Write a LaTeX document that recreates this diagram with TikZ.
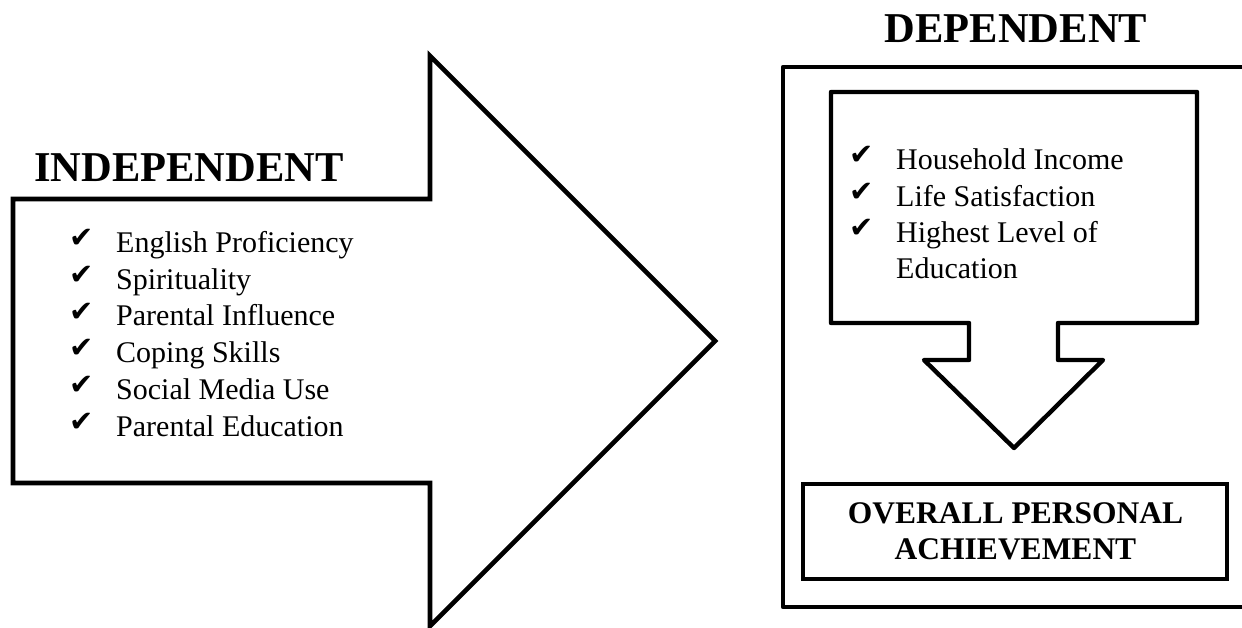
\documentclass[tikz,border=0pt]{standalone}
\usepackage{fontspec}
\setmainfont{Liberation Serif}
\newfontfamily\symfont{DejaVu Sans}
\begin{document}
\begin{tikzpicture}[x=1pt,y=-1pt,
  bigout/.style={draw=black, line width=4.6pt, line join=miter},
  roundout/.style={draw=black, line width=4.4pt, line join=round},
  thinbox/.style={draw=black, line width=3.2pt},
  title/.style={font=\fontsize{42.5}{42.5}\selectfont\bfseries, inner sep=0pt},
  item/.style={anchor=base west, font=\fontsize{30}{30}\selectfont, inner sep=0pt},
  tick/.style={anchor=base west, font=\symfont\fontsize{29}{29}\selectfont, inner sep=0pt},
  bold/.style={font=\fontsize{31.5}{36}\selectfont\bfseries, inner sep=0pt, align=center}
]
\useasboundingbox (0,0) rectangle (1242,628);
\clip (0,0) rectangle (1242,628);
% big left arrow
\draw[bigout] (13,199) -- (430,199) -- (430,56) -- (715,341) -- (430,626) -- (430,483) -- (13,483) -- cycle;
% right outer box
\draw[roundout] (783,67) rectangle (1260,607);
% inner down arrow
\draw[roundout] (831,92) -- (1197,92) -- (1197,323) -- (1058,323) -- (1058,360) -- (1103,360)
  -- (1014,448) -- (924,360) -- (969,360) -- (969,323) -- (831,323) -- cycle;
% result box
\node[thinbox, minimum width=424pt, minimum height=95pt, inner sep=0pt] (res) at (1015,531.5) {};
\node[bold] (restext) at (1015.5,531) {OVERALL PERSONAL\\ACHIEVEMENT};
% titles
\node[title, anchor=base] (indep) at (189,182) {INDEPENDENT};
\node[title, anchor=base] (dep) at (1016,43) {DEPENDENT};
% left list
\foreach \n/\yy/\t in {1/253/English Proficiency, 2/289.5/Spirituality, 3/326/Parental Influence,
  4/362.5/Coping Skills, 5/399/Social Media Use, 6/436/Parental Education}{
  \node[tick] (lc\n) at (69,\yy-5) {✔};
  \node[item] (li\n) at (116,\yy) {\t};
}
% right list
\foreach \n/\yy/\t in {1/170/Household Income, 2/207/Life Satisfaction, 3/243/Highest Level of}{
  \node[tick] (rc\n) at (849,\yy-5) {✔};
  \node[item] (ri\n) at (896,\yy) {\t};
}
\node[item] (ri4) at (896,279) {Education};
\end{tikzpicture}
\end{document}
